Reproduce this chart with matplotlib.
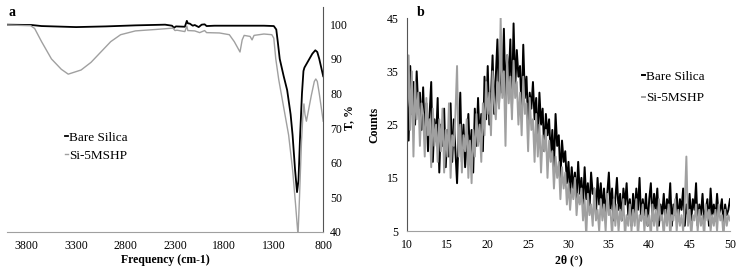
import numpy as np
import matplotlib.pyplot as plt

plt.rcParams['font.family'] = ['Liberation Serif', 'DejaVu Serif']

# (a) FTIR spectra
ftir_bare_x = [4000, 3750, 3650, 3300, 3000, 2700, 2400, 2330, 2310, 2290, 2200, 2180, 2170,
               2150, 2120, 2100, 2060, 2030, 2000, 1980, 1900, 1700, 1400, 1300, 1275, 1260,
               1240, 1200, 1165, 1130, 1110, 1085, 1065, 1050, 1035, 1015, 1000, 990, 970,
               940, 910, 880, 860, 840, 820, 800]
ftir_bare_y = [99.9, 99.8, 99.5, 99.2, 99.4, 99.7, 99.9, 99.6, 99.0, 99.4, 99.3, 101.0, 100.3,
               100.2, 99.6, 99.8, 99.2, 99.9, 100.0, 99.5, 99.6, 99.6, 99.6, 99.5, 98.5, 95.0,
               90.0, 85.0, 81.0, 74.0, 68.0, 58.0, 51.5, 55.0, 67.0, 80.0, 86.5, 87.5, 88.5,
               90.0, 91.5, 92.5, 92.0, 90.0, 87.5, 85.0]
ftir_si_x = [4000, 3760, 3720, 3650, 3550, 3450, 3380, 3250, 3150, 3050, 2950, 2850, 2700,
             2500, 2320, 2300, 2280, 2200, 2180, 2170, 2100, 2050, 2000, 1980, 1850, 1750,
             1700, 1642, 1620, 1600, 1540, 1520, 1500, 1400, 1320, 1300, 1280, 1250, 1200,
             1150, 1110, 1080, 1055, 1040, 1020, 1005, 995, 985, 970, 950, 920, 890, 875,
             860, 840, 820, 800]
ftir_si_y = [99.8, 99.6, 98.8, 95.0, 90.0, 87.0, 85.6, 86.8, 89.0, 92.0, 95.0, 97.0, 98.1,
             98.5, 98.9, 98.2, 98.3, 97.9, 99.5, 98.2, 98.1, 97.6, 98.2, 97.6, 97.5, 97.0,
             95.0, 92.0, 95.5, 96.8, 96.5, 95.5, 96.8, 97.2, 97.0, 96.0, 90.0, 84.0, 76.0,
             68.0, 58.0, 48.0, 39.0, 50.0, 66.0, 74.0, 77.0, 74.0, 72.0, 75.0, 79.5, 83.5,
             84.2, 83.5, 80.0, 76.0, 72.0]
ftir_ticks = [3800, 3300, 2800, 2300, 1800, 1300, 800]

# (b) XRD patterns, 2theta from 10 to 50 in 0.2 deg steps
xrd_bare = [30, 22, 36, 27, 33, 25, 35, 28, 31, 24,
            32, 23, 29, 20, 27, 33, 18, 26, 22, 30,
            16, 25, 21, 28, 17, 24, 19, 29, 18, 26,
            20, 14, 23, 31, 18, 25, 17, 22, 27, 19,
            24, 16, 28, 21, 30, 22, 27, 20, 34, 26,
            36, 25, 30, 38, 27, 34, 41, 29, 37, 31,
            43, 30, 38, 33, 41, 28, 44, 32, 39, 34,
            36, 27, 40, 30, 34, 25, 31, 28, 33, 26,
            30, 22, 31, 25, 28, 20, 27, 23, 26, 19,
            24, 17, 27, 21, 23, 15, 22, 18, 20, 14,
            18, 12, 17, 13, 16, 11, 18, 12, 15, 10,
            17, 11, 14, 9, 16, 12, 13, 8, 15, 10,
            14, 9, 13, 8, 12, 16, 9, 13, 7, 11,
            15, 9, 12, 7, 13, 10, 14, 8, 11, 6,
            12, 8, 13, 9, 15, 7, 11, 8, 12, 6,
            11, 14, 7, 12, 9, 13, 6, 10, 8, 12,
            7, 11, 9, 14, 6, 10, 8, 12, 7, 11,
            9, 13, 6, 10, 8, 12, 7, 11, 9, 14,
            6, 10, 8, 12, 7, 9, 11, 6, 13, 8,
            10, 7, 12, 8, 9, 11, 6, 10, 8, 9,
            11]
xrd_si = [28, 38, 24, 35, 19, 33, 26, 31, 21, 29,
          27, 19, 30, 23, 26, 17, 28, 21, 25, 18,
          26, 20, 28, 16, 24, 19, 29, 15, 23, 21,
          27, 36, 19, 25, 16, 23, 20, 26, 15, 22,
          14, 24, 19, 27, 21, 25, 18, 29, 23, 33,
          27, 31, 23, 35, 29, 26, 33, 28, 45, 30,
          35, 21, 38, 29, 34, 26, 37, 30, 33, 25,
          31, 23, 34, 27, 29, 20, 30, 24, 26, 18,
          27, 19, 25, 16, 23, 20, 24, 15, 22, 18,
          20, 13, 19, 15, 18, 11, 17, 13, 16, 10,
          14, 9, 13, 11, 15, 8, 12, 10, 13, 7,
          11, 4, 12, 8, 10, 6, 13, 7, 9, 5,
          11, 7, 10, 5, 12, 8, 9, 4, 11, 6,
          10, 5, 9, 7, 11, 4, 8, 6, 10, 5,
          9, 6, 11, 4, 8, 7, 10, 5, 9, 6,
          8, 4, 10, 6, 9, 5, 11, 7, 8, 4,
          9, 6, 10, 4, 8, 7, 11, 5, 9, 6,
          8, 5, 10, 19, 6, 9, 4, 8, 7, 10,
          5, 9, 6, 8, 4, 10, 7, 9, 5, 8,
          6, 9, 5, 10, 7, 8, 4, 9, 6, 8,
          7]
two_theta = np.linspace(10, 50, len(xrd_bare))

labels = ['Bare Silica', 'Si-5MSHP']
colors = ['#000000', '#a0a0a0']

fig = plt.figure(figsize=(7.42, 2.70), dpi=100)

# panel a
ax1 = fig.add_axes([0.0094, 0.141, 0.4262, 0.833])
ax1.plot(ftir_bare_x, ftir_bare_y, color=colors[0], lw=1.3, label=labels[0])
ax1.plot(ftir_si_x, ftir_si_y, color=colors[1], lw=1.0, label=labels[1])
ax1.set_xlim(4000, 800)
ax1.set_ylim(40, 105)
ax1.set_xticks(ftir_ticks)
ax1.set_yticks(range(40, 101, 10))
ax1.yaxis.tick_right()
ax1.tick_params(length=0, labelsize=8.5, pad=5)
ax1.tick_params(axis='x', pad=6)
for s in ['left', 'top']:
    ax1.spines[s].set_visible(False)
ax1.spines['right'].set_color('#555555')
ax1.spines['bottom'].set_color('#a0a0a0')
ax1.set_xlabel('Frequency (cm-1)', fontsize=8.5, fontweight='bold', labelpad=1)
ax1.set_ylabel('T, %', fontsize=8.5, fontweight='bold')
ax1.yaxis.set_label_coords(1.10, 0.51)
ax1.legend(loc='upper left', bbox_to_anchor=(0.145, 0.50), frameon=False, fontsize=9.5,
           handlelength=0.25, handletextpad=0.1, labelspacing=0.45)
fig.text(0.012, 0.955, 'a', fontsize=10, fontweight='bold', va='center')

# panel b
ax2 = fig.add_axes([0.5485, 0.144, 0.4353, 0.789])
ax2.plot(two_theta, xrd_bare, color=colors[0], lw=1.4, label=labels[0])
ax2.plot(two_theta, xrd_si, color=colors[1], lw=1.4, label=labels[1])
ax2.set_xlim(10, 50)
ax2.set_ylim(5, 45)
ax2.set_xticks(range(10, 51, 5))
ax2.set_yticks([5, 15, 25, 35, 45])
ax2.tick_params(length=0, labelsize=8.5, pad=6)
for s in ['right', 'top']:
    ax2.spines[s].set_visible(False)
ax2.spines['left'].set_color('#555555')
ax2.spines['bottom'].set_color('#a0a0a0')
ax2.set_xlabel('2θ (°)', fontsize=8.5, fontweight='bold', labelpad=2)
ax2.set_ylabel('Counts', fontsize=8.5, fontweight='bold')
ax2.yaxis.set_label_coords(-0.083, 0.50)
ax2.legend(loc='upper left', bbox_to_anchor=(0.69, 0.81), frameon=False, fontsize=9.5,
           handlelength=0.25, handletextpad=0.1, labelspacing=0.7)
fig.text(0.562, 0.955, 'b', fontsize=10, fontweight='bold', va='center')

fig.savefig('out.png', dpi=100)
